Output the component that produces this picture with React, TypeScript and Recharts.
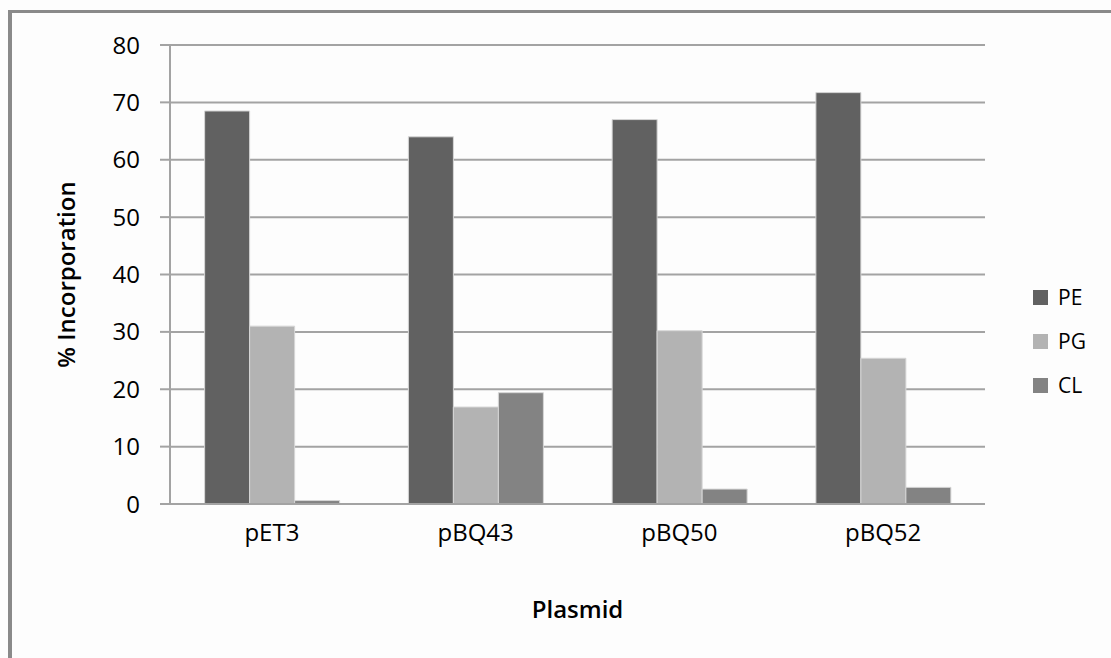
import {
  BarChart,
  Bar,
  XAxis,
  YAxis,
  CartesianGrid,
  Legend,
} from "recharts";

const plasmids = ["pET3", "pBQ43", "pBQ50", "pBQ52"];
const pe = [68.5, 64.0, 67.0, 71.7];
const pg = [31.0, 16.9, 30.2, 25.4];
const cl = [0.6, 19.4, 2.6, 2.9];
const yTicks = [0, 10, 20, 30, 40, 50, 60, 70, 80];

const series = [
  { key: "PE", color: "#616161" },
  { key: "PG", color: "#b3b3b3" },
  { key: "CL", color: "#838383" },
];

const data = plasmids.map((name, i) => ({
  name,
  PE: pe[i],
  PG: pg[i],
  CL: cl[i],
}));

const FONT = "'Open Sans', sans-serif";
const GRID = "#a3a3a3";

// legend keeps the series order instead of sorting by name
function LegendBox({ payload }: any) {
  const items = series
    .map((s) => (payload || []).find((p: any) => p.value === s.key))
    .filter(Boolean);
  return (
    <div style={{ fontFamily: FONT, fontSize: 21, color: "#000" }}>
      {items.map((p: any) => (
        <div
          key={p.value}
          style={{ display: "flex", alignItems: "center", height: 44 }}
        >
          <span
            style={{
              width: 15,
              height: 15,
              background: p.color,
              marginRight: 10,
              display: "inline-block",
            }}
          />
          {p.value}
        </div>
      ))}
    </div>
  );
}

export default function App() {
  return (
    <div
      style={{
        position: "absolute",
        left: 0,
        top: 0,
        width: 1111,
        height: 658,
        overflow: "hidden",
        background: "#fdfdfd",
      }}
    >
      {/* outer frame, open on the right and bottom */}
      <div
        style={{
          position: "absolute",
          left: 8,
          top: 10,
          width: 1200,
          height: 700,
          borderLeft: "4px solid #8a8a8a",
          borderTop: "3px solid #8a8a8a",
        }}
      />
      <div style={{ position: "absolute", left: 0, top: 0 }}>
        <BarChart
          width={1111}
          height={658}
          data={data}
          margin={{ top: 45, right: 46, left: 0, bottom: 94 }}
          barCategoryGap="17%"
          barGap={0}
        >
          <CartesianGrid vertical={false} stroke={GRID} strokeWidth={2} />
          <XAxis
            dataKey="name"
            height={60}
            tickLine={false}
            axisLine={{ stroke: GRID, strokeWidth: 2 }}
            tickSize={0}
            tickMargin={20}
            tick={{ fill: "#000", fontSize: 24, fontFamily: FONT }}
            label={{
              value: "Plasmid",
              position: "insideBottom",
              offset: -54,
              fill: "#000",
              fontSize: 24,
              fontWeight: 600,
              fontFamily: FONT,
            }}
          />
          <YAxis
            width={170}
            domain={[0, 80]}
            ticks={yTicks}
            interval={0}
            tickSize={10}
            tickMargin={20}
            tickLine={{ stroke: GRID, strokeWidth: 2 }}
            axisLine={{ stroke: GRID, strokeWidth: 2 }}
            tick={{ fill: "#000", fontSize: 24, fontFamily: FONT }}
            label={{
              value: "% Incorporation",
              angle: -90,
              position: "insideLeft",
              offset: 66,
              fill: "#000",
              fontSize: 24,
              fontWeight: 600,
              fontFamily: FONT,
              style: { textAnchor: "middle" },
            }}
          />
          <Legend
            layout="vertical"
            align="right"
            verticalAlign="top"
            content={<LegendBox />}
            wrapperStyle={{ left: 1033, top: 275, width: 80 }}
          />
          {series.map((s) => (
            <Bar
              key={s.key}
              dataKey={s.key}
              fill={s.color}
              stroke="#d6d6d6"
              strokeWidth={1}
              isAnimationActive={false}
            />
          ))}
        </BarChart>
      </div>
    </div>
  );
}
